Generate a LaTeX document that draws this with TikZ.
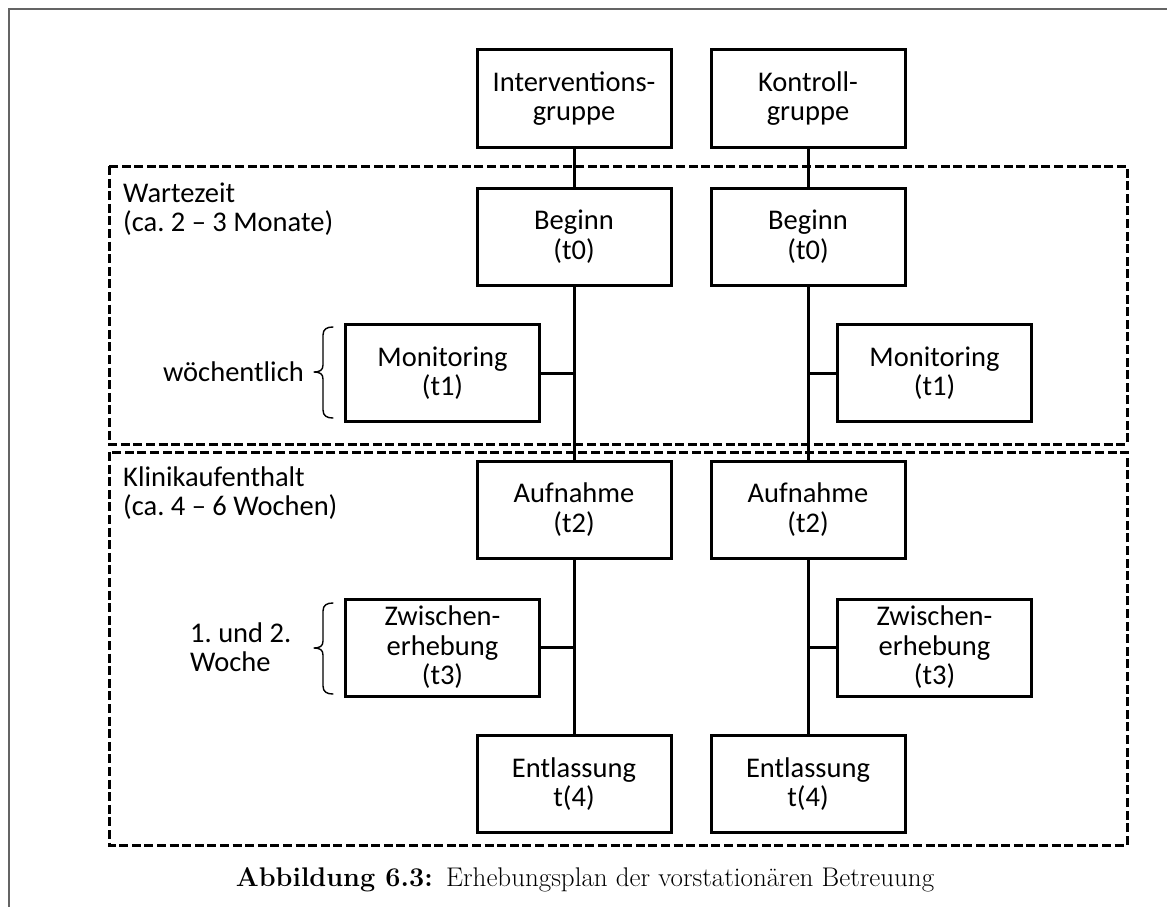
\documentclass[tikz,border=0pt]{standalone}
\usepackage{fontspec}
\newfontfamily\calib{Carlito}
\usetikzlibrary{calc}
\definecolor{framegray}{RGB}{100,100,100}
\frenchspacing
\tikzset{
  box/.style={draw, line width=3pt, minimum width=194pt, minimum height=97pt,
    inner sep=0pt, align=center, font=\calib\fontsize{28.5}{29.5}\selectfont},
  lbl/.style={inner sep=0pt, align=left, font=\calib\fontsize{28.5}{29.5}\selectfont},
  conn/.style={line width=3pt},
  phase/.style={line width=3pt, dash pattern=on 9pt off 3.6pt},
  bracket/.style={line width=1.4pt, line join=round, line cap=round},
}
\begin{document}
\begin{tikzpicture}[x=1pt, y=-1pt]
\useasboundingbox (0,0) rectangle (1167,907);
% page frame
\draw[framegray, line width=2pt] (9,907) -- (9,9.5) -- (1167,9.5);

% phase areas
\draw[phase] (109,166) rectangle (1127,444);
\draw[phase] (109,452) rectangle (1127,845);
\node[lbl, anchor=west] (wz) at (123,209) {Wartezeit\\(ca. 2 – 3 Monate)};
\node[lbl, anchor=west] (kl) at (123,493) {Klinikaufenthalt\\(ca. 4 – 6 Wochen)};

% groups and measurement points
\node[box] (ig) at (574,98.5) {Interventions-\\gruppe};
\node[box] (kg) at (808,98.5) {Kontroll-\\gruppe};
\node[box] (b1) at (574,236.5) {Beginn\\(t0)};
\node[box] (b2) at (808,236.5) {Beginn\\(t0)};
\node[box] (m1) at (442.5,373) {Monitoring\\(t1)};
\node[box] (m2) at (934.5,373) {Monitoring\\(t1)};
\node[box] (a1) at (574,509.5) {Aufnahme\\(t2)};
\node[box] (a2) at (808,509.5) {Aufnahme\\(t2)};
\node[box] (z1) at (442.5,647.5) {Zwischen-\\erhebung\\(t3)};
\node[box] (z2) at (934.5,647.5) {Zwischen-\\erhebung\\(t3)};
\node[box] (e1) at (574,784) {Entlassung\\t(4)};
\node[box] (e2) at (808,784) {Entlassung\\t(4)};

% connectors
\draw[conn] (ig) -- (b1);
\draw[conn] (b1) -- (a1);
\draw[conn] (a1) -- (e1);
\draw[conn] (kg) -- (b2);
\draw[conn] (b2) -- (a2);
\draw[conn] (a2) -- (e2);
\draw[conn] (m1.east) -- (m1.east -| b1);
\draw[conn] (z1.east) -- (z1.east -| a1);
\draw[conn] (m2.west) -- (m2.west -| b2);
\draw[conn] (z2.west) -- (z2.west -| a2);

% frequency brackets
\draw[bracket] (333,327) .. controls (327,327) and (323,329) .. (323,335) -- (323,365)
  .. controls (323,370) and (320,372) .. (314,372)
  .. controls (320,372) and (323,374) .. (323,379) -- (323,410)
  .. controls (323,416) and (327,418) .. (333,418);
\draw[bracket] (333,603) .. controls (327,603) and (323,605) .. (323,611) -- (323,641)
  .. controls (323,646) and (320,648) .. (314,648)
  .. controls (320,648) and (323,650) .. (323,655) -- (323,686)
  .. controls (323,692) and (327,694) .. (333,694);
\node[lbl, anchor=east] (wk) at (304,372) {wöchentlich};
\node[lbl, anchor=west] (w12) at (190,647) {1. und 2.\\Woche};

% caption
\node[inner sep=0pt, anchor=base, font=\fontsize{27}{30}\selectfont] (cap) at (585,886)
  {\textbf{Abbildung 6.3:}\enspace Erhebungsplan der vorstationären Betreuung};
\end{tikzpicture}
\end{document}
